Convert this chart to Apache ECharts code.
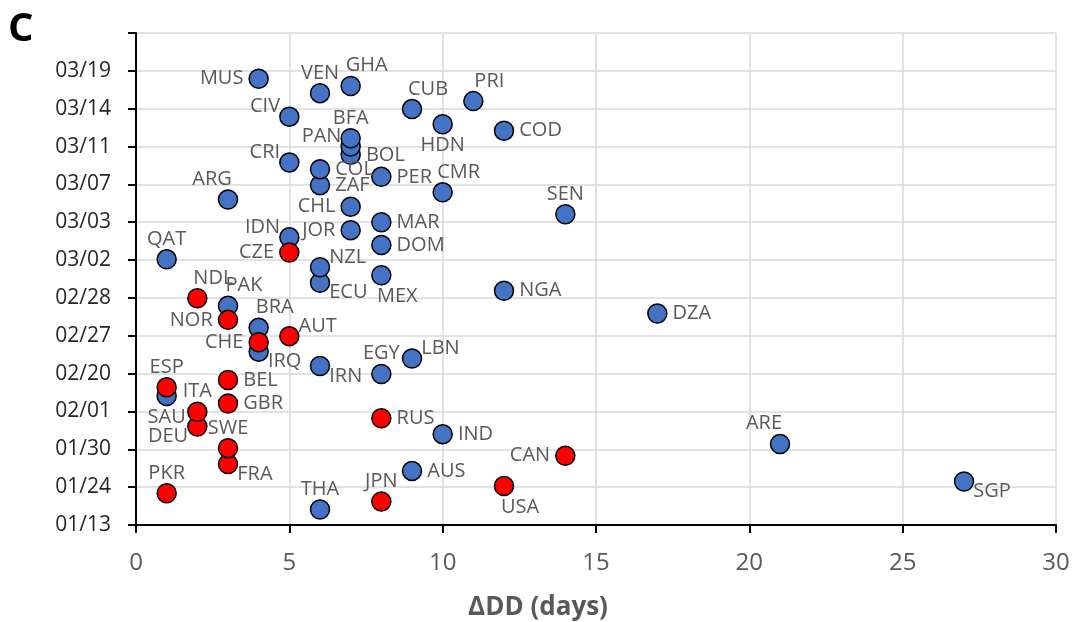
<!DOCTYPE html>
<html>
<head>
<meta charset="utf-8">
<script src="https://cdn.jsdelivr.net/npm/echarts@6/dist/echarts.min.js"></script>
<style>
html,body{margin:0;padding:0;background:#fff;}
#chart{width:1079px;height:622px;}
</style>
</head>
<body>
<div id="chart"></div>
<script>
// Y tick labels (evenly spaced date ticks, index 0..12; index 13 is an unlabeled top line)
const yTickLabels = ['01/13','01/24','01/30','02/01','02/20','02/27','02/28','03/02','03/03','03/07','03/11','03/14','03/19'];
const xTicks = [0, 5, 10, 15, 20, 25, 30];

// Blue group
const blueNames = ['THA','SGP','AUS','ARE','IND','SAU','EGY','IRN','LBN','IRQ','BRA','DZA','PAK','NGA','ECU','MEX','NZL','QAT','DOM','IDN','JOR','MAR','SEN','CHL','ARG','CMR','ZAF','PER','COL','CRI','BOL','PAN','BFA','COD','HDN','CIV','CUB','PRI','VEN','GHA','MUS'];
const blueDDD   = [6,27,9,21,10,1,8,6,9,4,4,17,3,12,6,8,6,1,8,5,7,8,14,7,3,10,6,8,6,5,7,7,7,12,10,5,9,11,6,7,4];
const blueDate  = [0.41,1.15,1.43,2.14,2.40,3.41,3.99,4.20,4.40,4.58,5.21,5.59,5.79,6.19,6.40,6.60,6.81,7.02,7.40,7.60,7.79,8.00,8.21,8.41,8.60,8.79,8.98,9.20,9.40,9.58,9.78,10.00,10.22,10.42,10.59,10.79,10.99,11.20,11.41,11.60,11.79];
const blueSide  = ['t','rb','r','tl','r','b','t','rb','rt','rb','tr','r','tr','r','rb','br','rt','t','r','lt','l','r','t','l','tl','tr','r','r','r','lt','r','lt','t','r','b','lt','tr','tr','t','tr','l'];

// Red group
const redNames = ['JPN','PKR','USA','FRA','CAN','SWE','DEU','RUS','ITA','GBR','ESP','BEL','CHE','AUT','NOR','NDL','CZE'];
const redDDD   = [8,1,12,3,14,3,2,8,2,3,1,3,4,5,3,2,5];
const redDate  = [0.62,0.84,1.03,1.61,1.83,2.03,2.60,2.82,2.99,3.21,3.64,3.83,4.83,4.99,5.42,5.99,7.20];
const redSide  = ['t','t','br','rb','l','t','lb','r','t','r','t','r','l','rt','l','tr','l'];

const SIDE = {
  t:  {position:'top', distance:0},
  b:  {position:'bottom', distance:1},
  l:  {position:'left', distance:5},
  r:  {position:'right', distance:5},
  tl: {position:'top', distance:0, offset:[-16,0]},
  tr: {position:'top', distance:0, offset:[16,0]},
  br: {position:'bottom', distance:1, offset:[16,0]},
  lt: {position:'left', distance:5, offset:[6,-10]},
  lb: {position:'left', distance:5, offset:[6,10]},
  rt: {position:'right', distance:5, offset:[-6,-10]},
  rb: {position:'right', distance:5, offset:[-6,10]}
};

function build(names, xs, ys, sides){
  return names.map((n,i)=>({
    name:n,
    value:[xs[i], ys[i]],
    label:Object.assign({show:true, formatter:n}, SIDE[sides[i]])
  }));
}

const labelStyle = {color:'#595959', fontSize:20, fontFamily:'Open Sans'};

const chart = echarts.init(document.getElementById('chart'), null, {renderer:'canvas'});
chart.setOption({
  animation:false,
  backgroundColor:'#fff',
  grid:{left:136, right:23, top:33, bottom:97, containLabel:false, outerBoundsMode:'none'},
  graphic:[{
    type:'text', left:8, top:10,
    style:{text:'C', font:'bold 40px "Open Sans"', fill:'#000'}
  }],
  xAxis:{
    type:'value', min:0, max:30, interval:5,
    name:'ΔDD (days)', nameLocation:'middle', nameGap:70,
    nameTextStyle:{color:'#595959', fontSize:26, fontWeight:'bold', fontFamily:'Open Sans', padding:[0,116,0,0]},
    axisLine:{show:true, onZero:false, lineStyle:{color:'#000', width:2}},
    axisTick:{show:true, inside:false, length:8, lineStyle:{color:'#000', width:2}},
    axisLabel:{color:'#595959', fontSize:24, fontFamily:'Open Sans', margin:26},
    splitLine:{show:true, lineStyle:{color:'#d9d9d9', width:1.5}}
  },
  yAxis:{
    type:'value', min:0, max:13, interval:1,
    axisLine:{show:true, onZero:false, lineStyle:{color:'#000', width:2}},
    axisTick:{show:true, inside:false, length:8, lineStyle:{color:'#000', width:2}},
    axisLabel:{color:'#262626', fontSize:21, fontFamily:'Open Sans', margin:25,
      formatter:v=> (yTickLabels[Math.round(v)] !== undefined ? yTickLabels[Math.round(v)] : '')},
    splitLine:{show:true, lineStyle:{color:'#d9d9d9', width:1.5}}
  },
  series:[
    {
      type:'scatter', name:'blue', symbol:'circle', symbolSize:19,
      itemStyle:{color:'#4472C4', borderColor:'#000', borderWidth:1.5, opacity:1},
      label:labelStyle,
      data:build(blueNames, blueDDD, blueDate, blueSide)
    },
    {
      type:'scatter', name:'red', symbol:'circle', symbolSize:19,
      itemStyle:{color:'#FF0000', borderColor:'#000', borderWidth:1.5, opacity:1},
      label:labelStyle,
      data:build(redNames, redDDD, redDate, redSide)
    }
  ]
});
</script>
</body>
</html>
